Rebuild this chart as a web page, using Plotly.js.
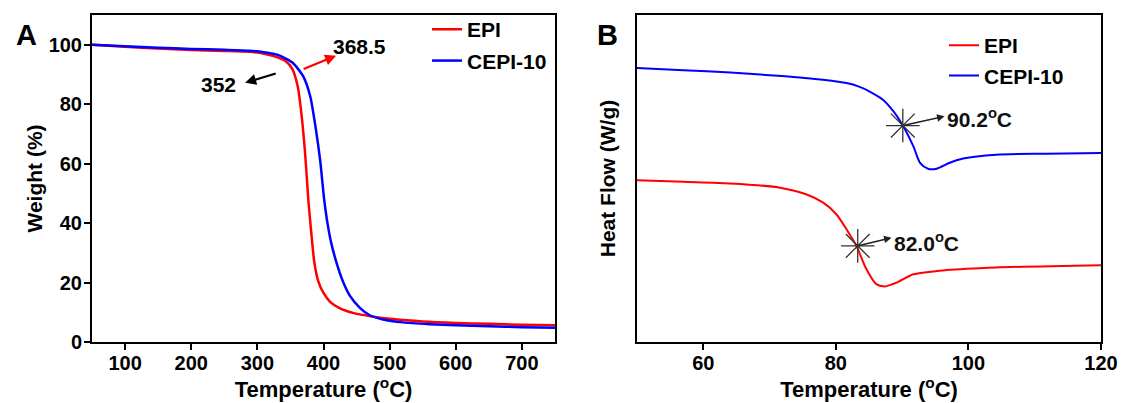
<!DOCTYPE html>
<html><head><meta charset="utf-8">
<script src="https://cdn.plot.ly/plotly-3.0.1.min.js"></script>
<style>html,body{margin:0;padding:0;background:#fff}#chart{width:1121px;height:403px}</style>
</head><body><div id="chart"></div>
<script>
// ---------- Data ----------
const seriesNames = ['EPI', 'CEPI-10'];

// Panel A: TGA
const tgaEpiTemp   = [50, 100, 150, 200, 250, 288, 310, 326, 342, 353, 361, 366, 372, 377, 381, 386, 392, 400, 410, 425, 446, 473, 505, 550, 600, 650, 700, 750];
const tgaEpiWeight = [100, 99.3, 98.7, 98.2, 97.9, 97.6, 97.0, 96.1, 94.6, 91.8, 86, 78, 64, 48, 38, 27, 20.5, 16.5, 13.5, 11.3, 9.7, 8.6, 7.7, 6.9, 6.4, 6.1, 5.8, 5.6];
const tgaCepiTemp   = [50, 100, 150, 200, 250, 288, 310, 331, 353, 369, 380, 388, 395, 401, 406, 412, 422, 430, 440, 455, 470, 490, 520, 560, 600, 650, 700, 750];
const tgaCepiWeight = [100, 99.5, 99.0, 98.6, 98.3, 98.0, 97.5, 96.6, 94.0, 89.5, 82.6, 72.3, 61, 48, 40, 33, 25, 20, 15.5, 11.5, 9.0, 7.6, 6.6, 6.0, 5.6, 5.3, 5.0, 4.8];
const onsetLabels = ['352', '368.5'];
const onsetLabelT = [240.6, 455];
const onsetLabelW = [86.5, 99.3];
const onsetArrowTailT = [330, 367.7];
const onsetArrowTailW = [90.5, 91.6];
const onsetArrowHeadT = [281.5, 419];
const onsetArrowHeadW = [87.2, 96.3];

// Panel B: DSC (arbitrary heat-flow units)
const dscEpiTemp  = [50, 57, 64.1, 71.6, 75.6, 78.1, 80.1, 81.6, 83.1, 84.6, 86.1, 87.4, 89.2, 91.7, 96.7, 104.2, 120];
const dscEpiFlow  = [49.5, 49.0, 48.5, 47.2, 45.1, 42.6, 39.0, 34.5, 29.4, 22.3, 17.7, 17.0, 18.2, 20.7, 22.0, 22.8, 23.5];
const dscCepiTemp = [50, 57, 64.1, 70, 74.1, 78, 81.6, 83.5, 85.1, 87.1, 88.7, 90.1, 91.7, 92.7, 93.9, 95.2, 97.2, 99.2, 104.2, 111.7, 120];
const dscCepiFlow = [83.8, 83.1, 82.4, 81.6, 81.0, 80.2, 79.2, 78.1, 76.6, 74.1, 70.5, 66.2, 59.8, 54.8, 53.0, 53.0, 54.8, 56.1, 57.3, 57.6, 57.8];
const tgLabels = ['82.0<sup>o</sup>C', '90.2<sup>o</sup>C'];
const tgMarkT = [83.3, 90.1];
const tgMarkFlow = [29.4, 66.2];
const tgArrowHeadT = [88.4, 96.4];
const tgArrowHeadFlow = [31.9, 69.0];
const tgLabelT = [88.5, 96.5];
const tgLabelFlow = [30.6, 68.6];

// Ticks
const xTicksA = [100, 200, 300, 400, 500, 600, 700];
const yTicksA = [0, 20, 40, 60, 80, 100];
const xTicksB = [60, 80, 100, 120];

// ---------- Styling ----------
const FONT = '"Liberation Sans", Arial, sans-serif';
const f = (size, color) => ({family: FONT, size: size, color: color || '#000', weight: 'bold'});
const RED = '#ff0000', BLUE = '#0000ff';
const W = 1121;

const traces = [
  {x: tgaEpiTemp, y: tgaEpiWeight, xaxis: 'x', yaxis: 'y', name: seriesNames[0], mode: 'lines',
   line: {color: RED, width: 2.5, shape: 'spline', smoothing: 0.6}, legend: 'legend', legendgroup: 'a'},
  {x: tgaCepiTemp, y: tgaCepiWeight, xaxis: 'x', yaxis: 'y', name: seriesNames[1], mode: 'lines',
   line: {color: BLUE, width: 2.5, shape: 'spline', smoothing: 0.6}, legend: 'legend', legendgroup: 'b'},
  {x: dscEpiTemp, y: dscEpiFlow, xaxis: 'x2', yaxis: 'y2', name: seriesNames[0], mode: 'lines',
   line: {color: RED, width: 2, shape: 'spline', smoothing: 0.7}, legend: 'legend2', legendgroup: 'c'},
  {x: dscCepiTemp, y: dscCepiFlow, xaxis: 'x2', yaxis: 'y2', name: seriesNames[1], mode: 'lines',
   line: {color: BLUE, width: 2, shape: 'spline', smoothing: 0.7}, legend: 'legend2', legendgroup: 'd'},
  {x: tgMarkT, y: tgMarkFlow, xaxis: 'x2', yaxis: 'y2', mode: 'markers', showlegend: false, hoverinfo: 'skip',
   marker: {symbol: 'asterisk-open', size: 28, color: '#333', line: {width: 1.3, color: '#333'}}}
];

const axisCommon = {
  showgrid: false, zeroline: false, linecolor: '#000', linewidth: 2, mirror: true,
  ticks: 'outside', ticklen: 6, tickwidth: 2, tickcolor: '#000', tickfont: f(20)
};

const annotations = [
  {xref: 'paper', yref: 'paper', x: 26 / W, y: 0.939, xanchor: 'center', yanchor: 'middle', text: 'A', showarrow: false, font: f(29)},
  {xref: 'paper', yref: 'paper', x: 607 / W, y: 0.939, xanchor: 'center', yanchor: 'middle', text: 'B', showarrow: false, font: f(29)}
];
const onsetColors = ['#000', RED];
onsetLabels.forEach((t, i) => {
  annotations.push({xref: 'x', yref: 'y', x: onsetLabelT[i], y: onsetLabelW[i], text: t, showarrow: false, font: f(21)});
  annotations.push({xref: 'x', yref: 'y', axref: 'x', ayref: 'y', x: onsetArrowHeadT[i], y: onsetArrowHeadW[i],
    ax: onsetArrowTailT[i], ay: onsetArrowTailW[i], text: '', showarrow: true, arrowhead: 2, arrowsize: 1,
    arrowwidth: 2.2, arrowcolor: onsetColors[i], standoff: 0, startstandoff: 0});
});
tgLabels.forEach((t, i) => {
  annotations.push({xref: 'x2', yref: 'y2', x: tgLabelT[i], y: tgLabelFlow[i], text: t, xanchor: 'left',
    showarrow: false, font: f(21, '#111')});
  annotations.push({xref: 'x2', yref: 'y2', axref: 'x2', ayref: 'y2', x: tgArrowHeadT[i], y: tgArrowHeadFlow[i],
    ax: tgMarkT[i], ay: tgMarkFlow[i], text: '', showarrow: true, arrowhead: 2, arrowsize: 1,
    arrowwidth: 1.5, arrowcolor: '#222', standoff: 0, startstandoff: 0});
});

const layout = {
  width: 1121, height: 403,
  margin: {l: 0, r: 0, t: 15, b: 61},
  paper_bgcolor: '#fff', plot_bgcolor: '#fff',
  font: f(20),
  xaxis: Object.assign({}, axisCommon, {domain: [92 / W, 555 / W], range: [50, 750], tickvals: xTicksA, anchor: 'y',
    ticklabelstandoff: -4, title: {text: 'Temperature (<sup>o</sup>C)', font: f(22), standoff: 6}}),
  yaxis: Object.assign({}, axisCommon, {domain: [0, 1], range: [0, 110], tickvals: yTicksA, anchor: 'x',
    ticklabelstandoff: -2, title: {text: 'Weight (%)', font: f(21), standoff: 0}}),
  xaxis2: Object.assign({}, axisCommon, {domain: [637 / W, 1101 / W], range: [50, 120], tickvals: xTicksB, anchor: 'y2',
    ticklabelstandoff: -4, title: {text: 'Temperature (<sup>o</sup>C)', font: f(22), standoff: 6}}),
  yaxis2: Object.assign({}, axisCommon, {domain: [0, 1], range: [0, 100], anchor: 'x2', ticks: '', showticklabels: false,
    title: {text: 'Heat Flow (W/g)', font: f(21), standoff: 14}}),
  legend: {x: 427 / W, y: 1.018, xanchor: 'left', yanchor: 'top', bgcolor: 'rgba(0,0,0,0)', font: f(21),
    tracegroupgap: 1, traceorder: 'grouped'},
  legend2: {x: 944 / W, y: 0.969, xanchor: 'left', yanchor: 'top', bgcolor: 'rgba(0,0,0,0)', font: f(21),
    tracegroupgap: 0, traceorder: 'grouped'},
  annotations: annotations,
  showlegend: true
};

Plotly.newPlot('chart', traces, layout, {staticPlot: true, displayModeBar: false});
</script>
</body></html>
